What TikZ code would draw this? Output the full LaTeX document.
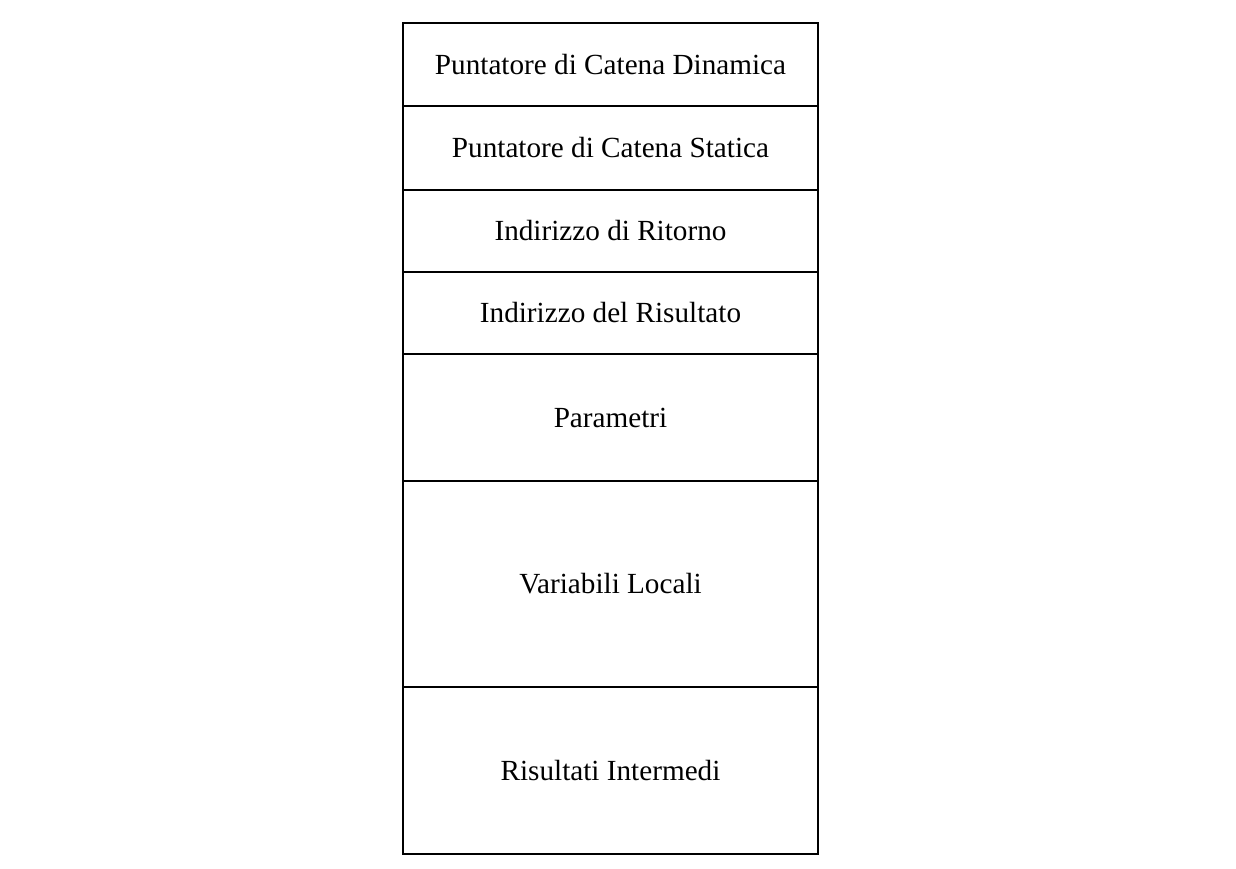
\documentclass[tikz,border=0pt]{standalone}
\usepackage{fontspec}
\setmainfont{Liberation Serif}
\begin{document}
\begin{tikzpicture}[x=0.5pt,y=-0.5pt,
  cell/.style={draw=black,line width=0.9pt,rectangle,inner sep=0pt,
    minimum width=207.5pt,font=\fontsize{14.6}{17}\selectfont}]
\useasboundingbox[fill=white] (0,0) rectangle (1236,868);
\node[cell,minimum height=41.5pt] (c1) at (610.5,64.5) {Puntatore di Catena Dinamica};
\node[cell,minimum height=42pt] (c2) at (610.5,148) {Puntatore di Catena Statica};
\node[cell,minimum height=41pt] (c3) at (610.5,231) {Indirizzo di Ritorno};
\node[cell,minimum height=41pt] (c4) at (610.5,313) {Indirizzo del Risultato};
\node[cell,minimum height=63.5pt] (c5) at (610.5,417.5) {Parametri};
\node[cell,minimum height=103pt] (c6) at (610.5,584) {Variabili Locali};
\node[cell,minimum height=83.5pt] (c7) at (610.5,770.5) {Risultati Intermedi};
\end{tikzpicture}
\end{document}
